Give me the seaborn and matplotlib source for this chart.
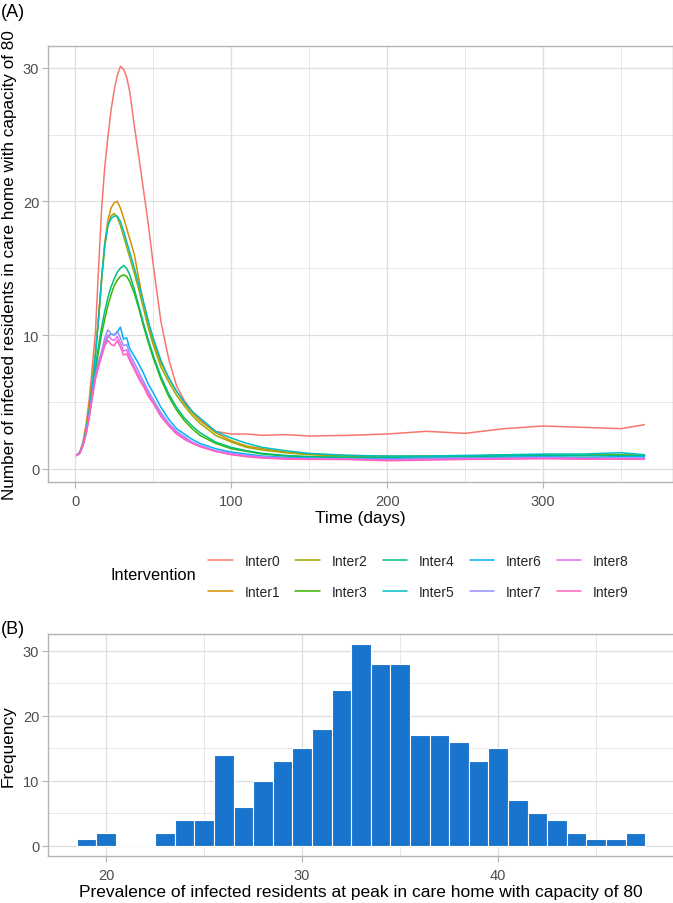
import numpy as np
import pandas as pd
import matplotlib
matplotlib.use("Agg")
import matplotlib.pyplot as plt
import seaborn as sns
from matplotlib.ticker import MultipleLocator

# ---------------- data ----------------
days = [1, 3, 5, 7, 9, 11, 13, 15, 17, 19, 21, 23, 25, 27, 29, 31, 33, 35, 38, 41,
        44, 47, 50, 55, 60, 65, 70, 75, 80, 90, 100, 110, 120, 135, 150, 175, 200,
        225, 250, 275, 300, 325, 350, 365]

interventions = ["Inter0", "Inter1", "Inter2", "Inter3", "Inter4",
                 "Inter5", "Inter6", "Inter7", "Inter8", "Inter9"]

inter0 = [1.0, 1.2, 2.0, 3.3, 5.2, 7.6, 10.2, 15.0, 19.5, 22.6, 24.8, 26.8, 28.3, 29.4, 30.1, 29.9, 29.3, 28.2, 25.6, 23.2,
          20.7, 18.2, 15.3, 11.0, 8.2, 6.2, 5.1, 4.3, 3.7, 2.8, 2.6, 2.6, 2.5, 2.55, 2.45, 2.5, 2.6,
          2.8, 2.65, 3.0, 3.2, 3.1, 3.0, 3.3]
inter1 = [1.0, 1.2, 1.9, 3.0, 4.6, 6.5, 8.6, 11.2, 14.2, 16.9, 18.6, 19.5, 19.9, 20.0, 19.5, 18.8, 18.0, 17.2, 16.0, 14.1,
          12.3, 10.9, 9.6, 7.9, 6.8, 5.8, 4.9, 4.2, 3.6, 2.7, 2.1, 1.7, 1.5, 1.25, 1.1, 1.0, 0.95,
          0.95, 0.9, 1.0, 1.0, 1.0, 1.0, 1.0]
inter2 = [1.0, 1.2, 1.9, 3.0, 4.6, 6.5, 8.7, 11.3, 14.2, 16.6, 18.2, 18.9, 19.1, 18.8, 18.2, 17.4, 16.6, 15.8, 14.6, 13.3,
          11.9, 10.5, 9.3, 7.6, 6.5, 5.5, 4.7, 4.0, 3.4, 2.5, 2.0, 1.6, 1.4, 1.2, 1.05, 0.95, 0.9,
          0.95, 0.95, 1.0, 1.0, 1.0, 1.05, 1.0]
inter3 = [1.0, 1.2, 1.8, 2.8, 4.1, 5.7, 7.3, 8.8, 10.1, 11.2, 12.2, 13.0, 13.7, 14.1, 14.4, 14.5, 14.4, 14.0, 13.1, 11.9,
          10.6, 9.4, 8.3, 6.7, 5.4, 4.4, 3.6, 3.0, 2.5, 1.9, 1.5, 1.3, 1.1, 0.95, 0.9, 0.85, 0.85,
          0.9, 0.95, 1.0, 1.0, 1.0, 1.0, 1.0]
inter4 = [1.0, 1.2, 1.8, 2.8, 4.2, 5.9, 7.6, 9.2, 10.6, 11.8, 12.8, 13.6, 14.2, 14.7, 15.0, 15.2, 15.0, 14.5, 13.4, 12.1,
          10.8, 9.6, 8.5, 6.9, 5.6, 4.6, 3.8, 3.2, 2.7, 2.0, 1.6, 1.35, 1.15, 1.0, 0.9, 0.85, 0.85,
          0.9, 0.9, 0.95, 1.0, 1.0, 1.0, 0.95]
inter5 = [1.0, 1.2, 1.8, 2.8, 4.3, 6.2, 8.5, 11.2, 14.3, 16.8, 18.2, 18.7, 18.9, 18.9, 18.5, 17.8, 17.0, 16.2, 15.0, 13.7,
          12.4, 11.0, 9.8, 8.1, 6.8, 5.8, 5.0, 4.3, 3.8, 2.8, 2.3, 1.9, 1.6, 1.35, 1.15, 1.0, 0.95,
          0.95, 1.0, 1.05, 1.1, 1.1, 1.2, 1.05]
inter6 = [1.0, 1.2, 1.8, 2.7, 4.0, 5.5, 7.0, 8.0, 8.6, 9.3, 9.9, 10.1, 10.0, 10.2, 10.6, 9.7, 9.8, 9.0, 8.4, 7.8,
          7.1, 6.3, 5.7, 4.6, 3.7, 3.0, 2.6, 2.2, 1.9, 1.5, 1.25, 1.1, 0.95, 0.85, 0.8, 0.75, 0.75,
          0.8, 0.8, 0.85, 0.9, 0.85, 0.9, 0.9]
inter7 = [1.0, 1.2, 1.8, 2.7, 4.0, 5.5, 7.0, 8.0, 8.8, 9.8, 10.4, 10.1, 10.0, 10.3, 9.8, 9.2, 9.3, 8.6, 7.9, 7.2,
          6.5, 5.8, 5.2, 4.2, 3.4, 2.8, 2.4, 2.0, 1.75, 1.35, 1.15, 1.0, 0.9, 0.8, 0.75, 0.75, 0.7,
          0.75, 0.8, 0.8, 0.85, 0.8, 0.8, 0.8]
inter8 = [1.0, 1.2, 1.7, 2.6, 3.9, 5.4, 6.8, 7.8, 8.6, 9.5, 10.0, 9.7, 9.6, 9.9, 9.4, 8.8, 8.9, 8.3, 7.6, 6.9,
          6.3, 5.6, 5.0, 4.0, 3.3, 2.7, 2.3, 1.95, 1.7, 1.3, 1.1, 0.95, 0.85, 0.75, 0.72, 0.7, 0.65,
          0.7, 0.72, 0.75, 0.8, 0.75, 0.75, 0.75]
inter9 = [1.0, 1.2, 1.7, 2.6, 3.8, 5.3, 6.7, 7.6, 8.4, 9.2, 9.6, 9.3, 9.2, 9.6, 9.1, 8.5, 8.6, 8.1, 7.4, 6.7,
          6.1, 5.4, 4.9, 3.9, 3.2, 2.6, 2.2, 1.9, 1.65, 1.3, 1.05, 0.9, 0.8, 0.72, 0.7, 0.7, 0.6,
          0.65, 0.7, 0.72, 0.75, 0.72, 0.72, 0.72]

series = [inter0, inter1, inter2, inter3, inter4, inter5, inter6, inter7, inter8, inter9]

# histogram (panel B): bin centres and frequencies
bin_centres = [19, 20, 21, 22, 23, 24, 25, 26, 27, 28, 29, 30, 31, 32, 33, 34, 35, 36, 37,
               38, 39, 40, 41, 42, 43, 44, 45, 46, 47]
frequencies = [1, 2, 0, 0, 2, 4, 4, 14, 6, 10, 13, 15, 18, 24, 31, 28, 28, 17, 17,
               16, 13, 15, 7, 5, 4, 2, 1, 1, 2]

palette = ["#F8766D", "#D89000", "#A3A500", "#39B600", "#00BF7D",
           "#00BFC4", "#00B0F6", "#9590FF", "#E76BF3", "#FF62BC"]

# ---------------- style ----------------
sns.set_theme(style="white")
plt.rcParams["font.family"] = ["Liberation Sans", "DejaVu Sans"]

GRID = "#DEDEDE"
BORDER = "#B3B3B3"
TICKTXT = "#4D4D4D"

df = pd.DataFrame({
    "Time": np.tile(days, len(interventions)),
    "Value": np.concatenate(series),
    "Intervention": np.repeat(interventions, len(days)),
})

fig = plt.figure(figsize=(6.73, 9.04), dpi=100)
ax1 = fig.add_axes([0.0718, 0.4660, 0.9280, 0.4817])
ax2 = fig.add_axes([0.0718, 0.0523, 0.9290, 0.2449])


def style_axes(ax):
    ax.set_facecolor("white")
    for s in ax.spines.values():
        s.set_color(BORDER)
        s.set_linewidth(1.0)
    ax.grid(which="major", color=GRID, linewidth=0.9)
    ax.grid(which="minor", color=GRID, linewidth=0.5)
    ax.set_axisbelow(True)
    ax.tick_params(which="major", direction="out", length=4, width=0.8, color=BORDER,
                   labelsize=10.5, labelcolor=TICKTXT, pad=2.5, bottom=True, left=True)
    ax.tick_params(axis="x", which="major", pad=4.5)
    ax.tick_params(which="minor", length=0, bottom=False, left=False)


# ---- panel A ----
sns.lineplot(data=df, x="Time", y="Value", hue="Intervention", palette=palette,
             hue_order=interventions, linewidth=1.1, ax=ax1)
ax1.set_xlim(-17.2, 383.2)
ax1.set_ylim(-0.97, 31.6)
ax1.xaxis.set_major_locator(MultipleLocator(100))
ax1.xaxis.set_minor_locator(MultipleLocator(50))
ax1.yaxis.set_major_locator(MultipleLocator(10))
ax1.yaxis.set_minor_locator(MultipleLocator(5))
style_axes(ax1)
ax1.set_xlabel("Time (days)", fontsize=12.4, color="black", labelpad=2)
ax1.set_ylabel("Number of infected residents in care home with capacity of 80",
               fontsize=12.3, color="black", labelpad=4)

sns.move_legend(ax1, "center left", bbox_to_anchor=(0.3095, 0.3612),
                bbox_transform=fig.transFigure, ncol=5, title=None, frameon=False,
                fontsize=10, handlelength=1.75, handletextpad=0.85,
                columnspacing=1.1, labelspacing=1.2, borderpad=0, borderaxespad=0)
fig.text(0.2923, 0.3632, "Intervention", ha="right", va="center", fontsize=11.8,
         color="black")

# ---- panel B ----
sns.histplot(x=bin_centres, weights=frequencies, binwidth=1, binrange=(18.5, 47.5),
             color="#1874CD", edgecolor="white", linewidth=0.8, alpha=1, ax=ax2)
ax2.set_xlim(17.05, 48.95)
ax2.set_ylim(-1.55, 32.55)
ax2.xaxis.set_major_locator(MultipleLocator(10))
ax2.xaxis.set_minor_locator(MultipleLocator(5))
ax2.yaxis.set_major_locator(MultipleLocator(10))
ax2.yaxis.set_minor_locator(MultipleLocator(5))
style_axes(ax2)
ax2.set_xlabel("Prevalence of infected residents at peak in care home with capacity of 80",
               fontsize=12.5, color="black", labelpad=2)
ax2.set_ylabel("Frequency", fontsize=12.4, color="black", labelpad=5)

fig.text(0.002, 0.9955, "(A)", ha="left", va="top", fontsize=13, color="black")
fig.text(0.002, 0.3135, "(B)", ha="left", va="top", fontsize=13, color="black")

fig.savefig("out.png", dpi=100)
